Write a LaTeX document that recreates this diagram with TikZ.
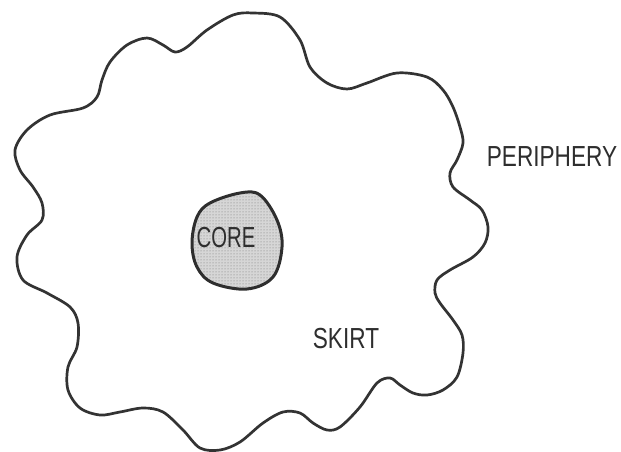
\documentclass[tikz,border=0pt]{standalone}
\usepackage{fontspec}
\usepackage{graphicx}
\setmainfont{Liberation Sans}
\usetikzlibrary{patterns}
\tikzset{
  outline/.style={draw=black!80, line width=2.7pt, line join=round},
  coreshape/.style={draw=black!82, line width=3pt, line join=round,
    preaction={fill=black!16}, pattern=dots, pattern color=black!55},
  lbl/.style={text=black!82, inner sep=0pt, anchor=base,
    font=\fontsize{29}{29}\selectfont}
}
\begin{document}
\begin{tikzpicture}[x=1pt,y=-1pt]
\useasboundingbox (0,0) rectangle (621,452);
% periphery outline
\draw[outline] plot[smooth cycle, tension=0.55] coordinates {
 (253,13) (280,17) (300,40) (310,67) (327,83) (347,89) (367,83) (397,73)
 (427,77) (443,90) (453,107) (460,127) (463,143) (457,160) (450,173)
 (453,187) (470,200) (482,210) (488,227) (485,243) (473,257) (450,270)
 (437,280) (435,293) (440,303) (453,320) (462,335) (463,353) (457,377)
 (443,390) (427,395) (413,393) (400,385) (390,378) (377,383) (360,407)
 (340,427) (327,430) (313,423) (300,413) (283,412) (263,423) (240,442)
 (220,450) (200,448) (183,430) (163,412) (143,408) (120,412) (100,415)
 (80,408) (68,390) (68,367) (77,347) (78,323) (70,307) (47,293) (23,280)
 (17,257) (27,235) (42,220) (42,203) (33,187) (20,170) (15,150) (27,130)
 (50,115) (83,108) (97,97) (102,80) (110,62) (127,45) (147,38) (163,45)
 (175,52) (187,47) (207,30) (233,15)
};
% core
\path[coreshape] plot[smooth cycle, tension=0.6] coordinates {
 (210,203) (240,193) (260,195) (277,220) (282,247) (273,277) (247,289)
 (213,283) (197,267) (192,243) (197,217)
};
\node[lbl] (core) at (226,247) {\scalebox{0.7}[1]{CORE}};
\node[lbl] (skirt) at (346,348) {\scalebox{0.78}[1]{SKIRT}};
\node[lbl] (periphery) at (552,166.5) {\scalebox{0.78}[1]{PERIPHERY}};
\end{tikzpicture}
\end{document}
